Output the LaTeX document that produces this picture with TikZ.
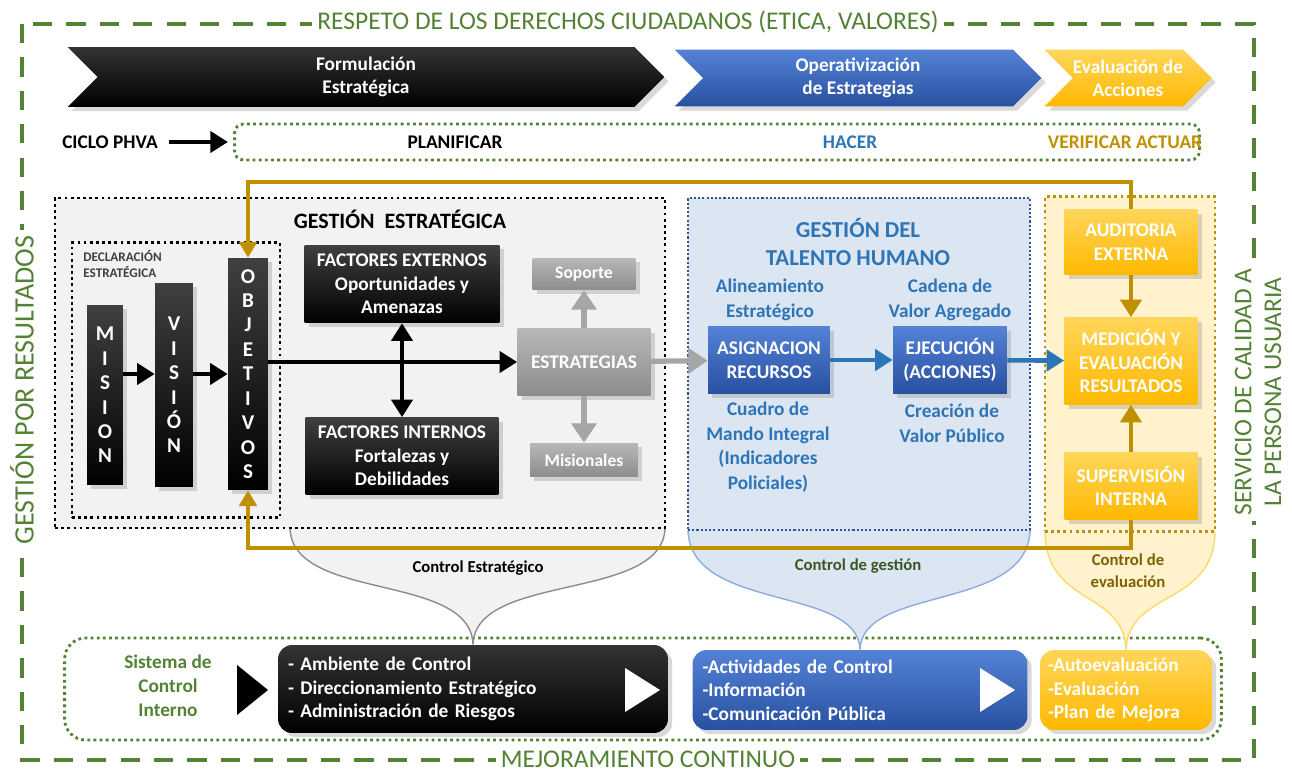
\documentclass[tikz,border=0pt]{standalone}
\usepackage{fontspec}
\setmainfont{Carlito}
\usepackage{tikz}
\usetikzlibrary{arrows.meta,shapes.symbols,shadows,positioning}

\definecolor{verde}{RGB}{84,130,53}
\definecolor{verdeosc}{RGB}{56,87,35}
\definecolor{oro}{RGB}{191,144,0}
\definecolor{oroosc}{RGB}{127,96,0}
\definecolor{azultexto}{RGB}{46,117,182}
\definecolor{azulcla}{RGB}{84,130,214}
\definecolor{azulosc}{RGB}{40,80,160}
\definecolor{azulborde}{RGB}{47,85,151}
\definecolor{azulfondo}{RGB}{220,230,242}
\definecolor{azulglobo}{RGB}{143,170,220}
\definecolor{amarillo}{RGB}{255,184,0}
\definecolor{amarillocla}{RGB}{255,214,90}
\definecolor{amarillofondo}{RGB}{255,242,204}
\definecolor{amarilloborde}{RGB}{255,217,102}
\definecolor{grisfondo}{RGB}{242,242,242}
\definecolor{gristexto}{RGB}{64,64,64}

\tikzset{
  marco/.style={draw=verde, line width=2.4pt, dash pattern=on 11pt off 8pt},
  marcotexto/.style={fill=white, text=verde, font=\fontsize{14.5}{17}\selectfont, align=center, inner sep=3pt},
  chevron/.style={signal, signal to=east, signal from=west, signal pointer angle=90,
    text=white, font=\bfseries\fontsize{11}{13}\selectfont, align=center, inner sep=0pt,
    drop shadow={opacity=0.3}},
  texto/.style={font=\bfseries\fontsize{11}{13.5}\selectfont, align=center, inner sep=1pt},
  textoazul/.style={texto, text=azultexto, font=\bfseries\fontsize{11}{14}\selectfont},
  punteado/.style={line width=1.6pt, dash pattern=on 1.6pt off 1.9pt},
  caja/.style={texto, top color=black!75, bottom color=black, text=white, drop shadow={opacity=0.3}},
  letras/.style={caja, font=\bfseries\fontsize{12}{13.9}\selectfont},
  cajagris/.style={texto, top color=black!28, bottom color=black!45, text=white, drop shadow={opacity=0.3}},
  cajaazul/.style={texto, top color=azulcla, bottom color=azulosc, text=white, drop shadow={opacity=0.3}},
  cajaoro/.style={texto, top color=amarillocla, bottom color=amarillo, text=white, drop shadow={opacity=0.3}},
  lista/.style={texto, align=left, rounded corners=8pt, text=white, inner xsep=0.2cm, drop shadow={opacity=0.3}},
  flecha/.style={line width=2.2pt, -{Triangle[length=10pt,width=12pt]}},
  flechadoble/.style={line width=2.2pt, {Triangle[length=10pt,width=12pt]}-{Triangle[length=10pt,width=12pt]}},
  flechagris/.style={draw=black!35, line width=3pt, -{Triangle[length=11pt,width=14pt]}},
  flechaazul/.style={draw=azultexto, line width=2.6pt, -{Triangle[length=10pt,width=12pt]}},
  flechaoro/.style={draw=oro, line width=2.6pt, -{Triangle[length=10pt,width=12pt]}},
  lazo/.style={draw=oro, line width=2.2pt, -{Triangle[length=9pt,width=10pt]}}
}

\begin{document}
\begin{tikzpicture}[x=0.02cm, y=-0.02cm]
\useasboundingbox (0,0) rectangle (1292,773);

% marco exterior
\draw[marco] (22,24) rectangle (1254,760);
\node[marcotexto] (respeto) at (628,22) {RESPETO DE LOS DERECHOS CIUDADANOS (ETICA, VALORES)};
\node[marcotexto, rotate=90, font=\fontsize{16}{19}\selectfont] (gpr) at (22,390) {GESTIÓN POR RESULTADOS};
\node[marcotexto, rotate=90] (servicio) at (1258,392) {SERVICIO DE CALIDAD A\\LA PERSONA USUARIA};
\node[marcotexto, inner ysep=0.5pt] (mejora) at (648,759) {MEJORAMIENTO CONTINUO};

% flechas de etapas
\node[chevron, top color=black!80, bottom color=black, minimum width=11.94cm, minimum height=1.2cm] (formula) at (366,77) {Formulación\\Estratégica};
\node[chevron, top color=azulcla, bottom color=azulosc, minimum width=7.34cm, minimum height=1.14cm] (operativa) at (858,78) {Operativización\\de Estrategias};
\node[chevron, top color=amarillocla, bottom color=amarillo, minimum width=3.14cm, minimum height=1.14cm] (evalacc) at (1128,78) {Evaluación de\\Acciones};

% ciclo PHVA
\node[punteado, draw=verde, rounded corners=5pt, minimum width=19.3cm, minimum height=0.72cm] (phva) at (717,142) {};
\node[texto] (ciclo) at (110,142) {CICLO PHVA};
\draw[flecha, shorten <=5pt, shorten >=3pt] (ciclo.east) -- (phva.west);
\node[texto] (planif) at (455,142) {PLANIFICAR};
\node[texto, text=azultexto] (hacer) at (850,142) {HACER};
\node[texto, text=oro] (verif) at (1125,142) {VERIFICAR ACTUAR};

% sistema de control interno
\node[punteado, draw=verde, rounded corners=12pt, minimum width=23.14cm, minimum height=2.04cm] (sci) at (643,689) {};
\node[texto, text=verde, font=\bfseries\fontsize{11}{13.6}\selectfont] (sistema) at (168,686) {Sistema de\\Control\\Interno};
\fill[black] (237,665) -- (268,690) -- (237,715) -- cycle;
\node[lista, top color=black!80, bottom color=black, minimum width=7.8cm, minimum height=1.76cm, text width=7.4cm] (ambiente) at (473,689) {- Ambiente de Control\\- Direccionamiento Estratégico\\- Administración de Riesgos};
\fill[white] (625,668) -- (660,690) -- (625,712) -- cycle;
\node[lista, top color=azulcla, bottom color=azulosc, minimum width=6.7cm, minimum height=1.6cm, text width=6.3cm] (control) at (860,690) {-Actividades de Control\\-Información\\-Comunicación Pública};
\fill[white] (980,668) -- (1015,690) -- (980,712) -- cycle;
\node[lista, top color=amarillocla, bottom color=amarillo, minimum width=3.44cm, minimum height=1.6cm, text width=3.12cm, inner xsep=0.16cm] (autoeval) at (1126,690) {-Autoevaluación\\-Evaluación\\-Plan de Mejora};

% globos de control
\filldraw[fill=grisfondo, draw=black!45, line width=0.8pt] (290,528) .. controls (292,602) and (471,572) .. (ambiente.north) .. controls (475,572) and (663,602) .. (665,528);
\node[texto, font=\bfseries\fontsize{9.5}{12}\selectfont] (ctrlestr) at (478,568) {Control Estratégico};
\filldraw[fill=azulfondo, draw=azulglobo, line width=0.8pt] (688,530) .. controls (690,612) and (858,585) .. (control.north) .. controls (862,585) and (1028,612) .. (1030,530);
\node[texto, text=verdeosc, font=\bfseries\fontsize{9.5}{12}\selectfont] (ctrlges) at (858,566) {Control de gestión};
\filldraw[fill=amarillofondo, draw=amarilloborde, line width=0.8pt] (1045,532) .. controls (1046,606) and (1124,590) .. (autoeval.north) .. controls (1128,590) and (1214,606) .. (1215,532);
\node[texto, text=oroosc, font=\bfseries\fontsize{9.5}{12.5}\selectfont] (ctrleva) at (1128,571) {Control de\\evaluación};

% gestion estrategica
\node[punteado, draw=black, fill=grisfondo, minimum width=12.2cm, minimum height=6.6cm] (gestion) at (360,363) {};
\node[texto, font=\bfseries\fontsize{12.5}{15}\selectfont] (gesttit) at (400,219) {GESTIÓN\ \ ESTRATÉGICA};
\node[punteado, draw=black, minimum width=4.16cm, minimum height=5.5cm] (decl) at (176,380) {};
\node[texto, anchor=north west, align=left, text=gristexto, font=\bfseries\fontsize{7.5}{9}\selectfont, inner sep=0pt] (decltit) at (83,250) {DECLARACIÓN\\ESTRATÉGICA};
\node[letras, minimum width=0.72cm, minimum height=3.6cm] (mision) at (105,395) {M\\I\\S\\I\\O\\N};
\node[letras, minimum width=0.76cm, minimum height=4.08cm] (vision) at (174,385) {V\\I\\S\\I\\Ó\\N};
\node[letras, minimum width=0.8cm, minimum height=4.64cm] (objetivos) at (248,374) {O\\B\\J\\E\\T\\I\\V\\O\\S};
\draw[flecha] (mision.east |- objetivos.east) -- (vision.west |- objetivos.east);
\draw[flecha] (vision.east |- objetivos.east) -- (objetivos.west);

\node[caja, minimum width=3.9cm, minimum height=1.56cm] (externos) at (402,284) {FACTORES EXTERNOS\\Oportunidades y\\Amenazas};
\node[caja, minimum width=3.86cm, minimum height=1.54cm] (internos) at (402,456) {FACTORES INTERNOS\\Fortalezas y\\Debilidades};
\draw[flechadoble] (externos) -- (internos);

\node[cajagris, minimum width=2.66cm, minimum height=1.34cm] (estrategias) at (584,362) {ESTRATEGIAS};
\node[cajagris, minimum width=2.06cm, minimum height=0.64cm, font=\bfseries\fontsize{10}{12}\selectfont] (soporte) at (584,274) {Soporte};
\node[cajagris, minimum width=2.16cm, minimum height=0.68cm, font=\bfseries\fontsize{10}{12}\selectfont] (misionales) at (584,460) {Misionales};
\draw[flechagris] (estrategias) -- (soporte);
\draw[flechagris] (estrategias) -- (misionales);
\draw[flecha] (objetivos.east |- estrategias.west) -- (estrategias.west);

% talento humano
\node[draw=azulborde, fill=azulfondo, line width=1.2pt, dash pattern=on 1.2pt off 1.2pt, minimum width=6.84cm, minimum height=6.64cm] (talento) at (859,364) {};
\node[textoazul, font=\bfseries\fontsize{13}{16.5}\selectfont] (talentotit) at (858,242) {GESTIÓN\ DEL\\TALENTO\ HUMANO};
\node[textoazul] (alineam) at (770,300) {Alineamiento\\Estratégico};
\node[textoazul] (cadena) at (950,300) {Cadena de\\Valor Agregado};
\node[cajaazul, minimum width=2.44cm, minimum height=1.34cm] (asigna) at (769,360) {ASIGNACION\\RECURSOS};
\node[cajaazul, minimum width=2.28cm, minimum height=1.34cm] (ejecuta) at (950,360) {EJECUCIÓN\\(ACCIONES)};
\node[textoazul] (cuadro) at (768,447) {Cuadro de\\Mando Integral\\(Indicadores\\Policiales)};
\node[textoazul] (creacion) at (952,423) {Creación de\\Valor Público};
\draw[flechagris] (estrategias) -- (asigna);
\draw[flechaazul] (asigna) -- (ejecuta);

% evaluacion
\node[punteado, draw=oro, fill=amarillofondo, minimum width=3.4cm, minimum height=6.7cm] (evalua) at (1130,364) {};
\node[cajaoro, minimum width=2.66cm, minimum height=1.3cm] (auditoria) at (1131,242) {AUDITORIA\\EXTERNA};
\node[cajaoro, minimum width=2.66cm, minimum height=1.74cm] (medicion) at (1131,361) {MEDICIÓN Y\\EVALUACIÓN\\RESULTADOS};
\node[cajaoro, minimum width=2.66cm, minimum height=1.34cm] (supervision) at (1131,486) {SUPERVISIÓN\\INTERNA};
\draw[flechaoro] (auditoria) -- (medicion);
\draw[flechaoro] (supervision) -- (medicion);
\draw[flechaazul] (ejecuta) -- (medicion);

% lazo de retroalimentacion
\coordinate (lazoarriba) at (700,182);
\coordinate (lazoabajo) at (700,548);
\draw[lazo] (auditoria.north) |- (lazoarriba) -| (objetivos.north);
\draw[lazo] (supervision.south) |- (lazoabajo) -| (objetivos.south);
\end{tikzpicture}
\end{document}
